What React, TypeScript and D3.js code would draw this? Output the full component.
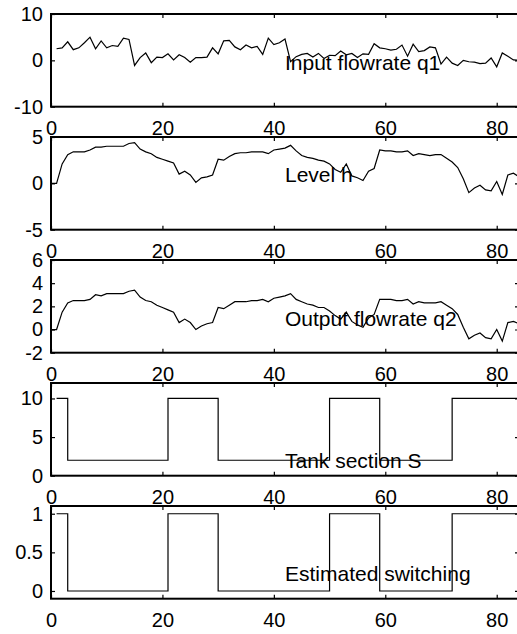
import * as d3 from "d3";
import { useEffect, useRef } from "react";

const WIDTH = 517;
const HEIGHT = 634;

// input flowrate q1, samples t = 1..84
const inputFlow = [
  2.5, 2.7, 4.0, 2.3, 2.7, 3.8, 5.0, 2.5, 4.2, 2.7,
  3.2, 3.0, 4.8, 4.5, -1.1, 0.6, 1.6, -0.5, 0.7, 0.6,
  1.4, 0.1, 1.2, 0.6, -0.4, 0.6, 0.6, 0.7, 2.7, 1.4,
  4.2, 4.3, 2.9, 2.3, 3.3, 2.7, 3.0, 1.3, 4.8, 3.4,
  3.8, 4.6, -0.3, 0.8, 1.3, 1.5, 0.7, 1.5, 0.4, 1.1,
  1.0, 2.0, 1.2, 1.5, 0.6, 1.4, 1.3, 3.6, 2.7, 2.5,
  2.2, 2.4, 3.3, 0.9, 3.5, 1.9, 2.1, 2.9, 2.7, -0.8,
  0.7, -0.6, -1.1, 0.0, -0.3, -0.4, -0.7, -0.6, 0.5, -1.4,
  1.6, 0.9, 0.1, 0.0,
];

// level h, samples t = 0..84
const levelH = [
  0.0, 0.0, 2.1, 3.1, 3.4, 3.4, 3.4, 3.6, 3.9, 3.9,
  4.0, 4.0, 4.0, 4.0, 4.3, 4.4, 3.7, 3.4, 3.2, 2.8,
  2.6, 2.4, 2.2, 1.0, 1.3, 0.9, 0.1, 0.6, 0.7, 0.9,
  2.6, 2.5, 2.9, 3.2, 3.3, 3.3, 3.4, 3.4, 3.4, 3.2,
  3.6, 3.7, 3.8, 4.1, 3.5, 3.0, 2.8, 2.7, 2.5, 2.4,
  2.1, 1.5, 1.2, 2.1, 0.8, 0.6, 0.3, 1.3, 1.6, 3.6,
  3.5, 3.5, 3.4, 3.4, 3.5, 3.0, 3.2, 3.1, 3.0, 3.1,
  3.1, 2.7, 2.3, 1.7, 0.5, -1.0, -0.5, -0.2, -0.7, -0.8,
  0.2, -1.2, 0.9, 1.1, 0.7,
];

// output flowrate q2, samples t = 0..84
const outputFlow = [
  0.0, 0.0, 1.5, 2.3, 2.5, 2.5, 2.5, 2.6, 3.0, 2.9,
  3.1, 3.1, 3.1, 3.1, 3.3, 3.4, 2.8, 2.5, 2.4, 2.1,
  1.9, 1.7, 1.5, 0.6, 0.9, 0.6, 0.0, 0.3, 0.5, 0.6,
  1.9, 1.8, 2.1, 2.4, 2.4, 2.4, 2.5, 2.5, 2.6, 2.4,
  2.7, 2.8, 2.9, 3.1, 2.6, 2.4, 2.2, 2.1, 1.9, 1.9,
  1.6, 1.2, 0.9, 1.5, 0.7, 0.4, 0.2, 1.0, 1.3, 2.6,
  2.6, 2.6, 2.5, 2.5, 2.6, 2.2, 2.4, 2.3, 2.3, 2.3,
  2.4, 2.1, 1.8, 1.3, 0.2, -0.8, -0.5, -0.3, -0.7, -0.8,
  0.0, -1.0, 0.6, 0.7, 0.5,
];

// switching instants and the mode held from each one
const switchTimes = [1, 3, 21, 30, 50, 59, 72, 84];
const tankSection = [10, 2, 10, 2, 10, 2, 10, 10];
const estimatedMode = [1, 0, 1, 0, 1, 0, 1, 1];

const xTicks = [0, 20, 40, 60, 80];

type Panel = {
  label: string;
  points: [number, number][];
  domain: [number, number];
  ticks: number[];
  labelY: number;
  step: boolean;
};

const panels: Panel[] = [
  {
    label: "Input flowrate q1",
    points: inputFlow.map((v, i) => [i + 1, v]),
    domain: [-10, 10],
    ticks: [-10, 0, 10],
    labelY: -2,
    step: false,
  },
  {
    label: "Level h",
    points: levelH.map((v, i) => [i, v]),
    domain: [-5, 5],
    ticks: [-5, 0, 5],
    labelY: 0.1,
    step: false,
  },
  {
    label: "Output flowrate q2",
    points: outputFlow.map((v, i) => [i, v]),
    domain: [-2, 6],
    ticks: [-2, 0, 2, 4, 6],
    labelY: 0.3,
    step: false,
  },
  {
    label: "Tank section S",
    points: switchTimes.map((t, i) => [t, tankSection[i]]),
    domain: [0, 12],
    ticks: [0, 5, 10],
    labelY: 1,
    step: true,
  },
  {
    label: "Estimated switching",
    points: switchTimes.map((t, i) => [t, estimatedMode[i]]),
    domain: [-0.1, 1.1],
    ticks: [0, 0.5, 1],
    labelY: 0.13,
    step: true,
  },
];

const FONT = "'Liberation Sans', Arial, Helvetica, sans-serif";

const drawChart = (svgElement: SVGSVGElement) => {
  const svg = d3.select(svgElement);
  svg.selectAll("*").remove();

  const left = 51;
  const right = 519;
  const firstTop = 14;
  const panelHeight = 92.7;
  const panelStep = 123;
  const tickLen = 4;

  const xScale = d3.scaleLinear().domain([0, 84]).range([left, right]);

  svg.append("rect").attr("width", WIDTH).attr("height", HEIGHT).attr("fill", "white");

  panels.forEach((panel, index) => {
    const top = firstTop + index * panelStep;
    const bottom = top + panelHeight;
    const yScale = d3.scaleLinear().domain(panel.domain).range([bottom, top]);

    const g = svg.append("g");

    // white axes background hides the x labels of the panel above
    g.append("rect")
      .attr("x", left)
      .attr("y", top)
      .attr("width", right - left)
      .attr("height", panelHeight)
      .attr("fill", "white");

    const line = d3
      .line<[number, number]>()
      .x((d) => xScale(d[0]))
      .y((d) => yScale(d[1]))
      .curve(panel.step ? d3.curveStepAfter : d3.curveLinear);

    g.append("path")
      .datum(panel.points)
      .attr("d", line)
      .attr("fill", "none")
      .attr("stroke", "black")
      .attr("stroke-width", 1.2);

    const styleAxis = (sel: d3.Selection<SVGGElement, unknown, null, undefined>) => {
      sel.select(".domain").remove();
      sel.selectAll(".tick line").attr("stroke", "black").attr("stroke-width", 1.2);
      sel.selectAll(".tick text")
        .attr("fill", "black")
        .style("font-family", FONT)
        .style("font-size", "20px");
    };

    g.append("g")
      .attr("transform", `translate(0,${bottom})`)
      .call(
        d3.axisBottom(xScale).tickValues(xTicks).tickSizeInner(-tickLen).tickSizeOuter(0).tickPadding(14)
          .tickFormat((d) => String(d))
      )
      .call(styleAxis);

    g.append("g")
      .attr("transform", `translate(0,${top})`)
      .call(d3.axisTop(xScale).tickValues(xTicks).tickSizeInner(-tickLen).tickSizeOuter(0).tickFormat(() => ""))
      .call(styleAxis);

    g.append("g")
      .attr("transform", `translate(${left},0)`)
      .call(
        d3.axisLeft(yScale).tickValues(panel.ticks).tickSizeInner(-tickLen).tickSizeOuter(0).tickPadding(8)
          .tickFormat((d) => String(d))
      )
      .call(styleAxis);

    g.append("g")
      .attr("transform", `translate(${right},0)`)
      .call(d3.axisRight(yScale).tickValues(panel.ticks).tickSizeInner(-tickLen).tickSizeOuter(0).tickFormat(() => ""))
      .call(styleAxis);

    g.append("rect")
      .attr("x", left)
      .attr("y", top)
      .attr("width", right - left)
      .attr("height", panelHeight)
      .attr("fill", "none")
      .attr("stroke", "black")
      .attr("stroke-width", 2);

    g.append("text")
      .attr("x", xScale(42))
      .attr("y", yScale(panel.labelY))
      .style("font-family", FONT)
      .style("font-size", "21px")
      .attr("fill", "black")
      .text(panel.label);
  });
};

const App = () => {
  const svgRef = useRef<SVGSVGElement | null>(null);

  useEffect(() => {
    if (svgRef.current) drawChart(svgRef.current);
  }, []);

  return (
    <svg
      ref={svgRef}
      width={WIDTH}
      height={HEIGHT}
      style={{ position: "absolute", left: 0, top: 0, display: "block" }}
    />
  );
};

export default App;
